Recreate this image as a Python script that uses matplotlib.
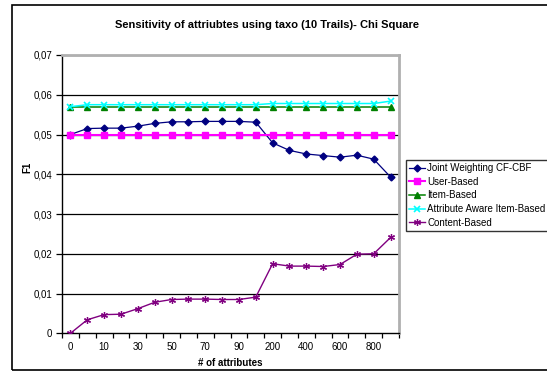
import matplotlib.pyplot as plt
import numpy as np
from matplotlib.patches import Rectangle

plt.rcParams['font.family'] = ['Liberation Sans', 'DejaVu Sans']

# number of attributes used in each trial
n_attrs = [0, 5, 10, 20, 30, 40, 50, 60, 70, 80, 90, 100,
           200, 300, 400, 500, 600, 700, 800, 900]

# F1 for each method
joint_cf_cbf = [0.0500, 0.0515, 0.0516, 0.0516, 0.0521, 0.0528, 0.0532, 0.0532, 0.0533, 0.0533,
                0.0533, 0.0531, 0.0479, 0.0460, 0.0451, 0.0447, 0.0443, 0.0448, 0.0438, 0.0393]
user_based = [0.050] * 20
item_based = [0.057] * 20
attr_aware = [0.0570] + [0.0575] * 11 + [0.0578] * 7 + [0.0584]
content_based = [0.0, 0.0034, 0.0047, 0.0048, 0.0062, 0.0078, 0.0085, 0.0086, 0.0086, 0.0085,
                 0.0085, 0.0091, 0.0175, 0.0169, 0.0169, 0.0168, 0.0173, 0.0199, 0.0200, 0.0241]

x = np.arange(len(n_attrs))

fig = plt.figure(figsize=(5.47, 3.76), dpi=100)
ax = fig.add_axes([62 / 547, 1 - 333.3 / 376, 337 / 547, 278.3 / 376])

# horizontal gridlines behind the series
for v in np.arange(0.01, 0.071, 0.01):
    ax.axhline(v, color='black', lw=0.9, zorder=1)

ax.plot(x, joint_cf_cbf, color='#000080', lw=0.9, marker='D', ms=3.5, label='Joint Weighting CF-CBF', zorder=3)
ax.plot(x, user_based, color='#FF00FF', lw=1.5, marker='s', ms=4.5, label='User-Based', zorder=3)
ax.plot(x, item_based, color='#008000', lw=1.1, marker='^', ms=4, label='Item-Based', zorder=3)
ax.plot(x, attr_aware, color='#00FFFF', lw=1.1, marker='x', ms=4, mew=1.2, label='Attribute Aware Item-Based', zorder=3)
ax.plot(x, content_based, color='#800080', lw=1.0, marker=(6, 2, 0), ms=5, mew=0.9, label='Content-Based', zorder=3)

ax.set_xlim(-0.5, len(n_attrs) - 0.5)
ax.set_ylim(0, 0.07)

# tick marks sit between categories, labels on every other category
ax.set_xticks(np.arange(-0.5, len(n_attrs), 1.0))
ax.set_xticklabels([])
ax.set_xticks(x[::2], minor=True)
ax.set_xticklabels([str(v) for v in n_attrs[::2]], minor=True)
ax.tick_params(axis='x', which='major', direction='out', length=3.5, width=0.9, color='black')
ax.tick_params(axis='x', which='minor', length=0, labelsize=7, pad=6)

yt = np.arange(0, 0.071, 0.01)
ax.set_yticks(yt)
ax.set_yticklabels(['0'] + ['0,0%d' % i for i in range(1, 8)])
ax.tick_params(axis='y', direction='out', length=4, width=0.9, labelsize=7, pad=3)

for s in ['left', 'bottom']:
    ax.spines[s].set_color('black')
    ax.spines[s].set_linewidth(1.0)
for s in ['right', 'top']:
    ax.spines[s].set_color('#B0B0B0')
    ax.spines[s].set_linewidth(2.0)

fig.text(267 / 547, 1 - 25 / 376, 'Sensitivity of attriubtes using taxo (10 Trails)- Chi Square',
         ha='center', va='center', fontsize=8, fontweight='bold')
fig.text(230 / 547, 1 - 362.5 / 376, '# of attributes', ha='center', va='center', fontsize=7, fontweight='bold')
fig.text(27 / 547, 1 - 167 / 376, 'F1', ha='center', va='center', rotation=90, fontsize=7, fontweight='bold')

leg = ax.legend(loc='upper left', bbox_to_anchor=(405.7 / 547, 1 - 160 / 376), bbox_transform=fig.transFigure,
                fontsize=7, frameon=True, fancybox=False, borderaxespad=0, handlelength=1.7,
                handletextpad=0.2, labelspacing=0.38, borderpad=0.3)
leg.get_frame().set_edgecolor('black')
leg.get_frame().set_linewidth(1.0)

# chart border
fig.patches.append(Rectangle((12 / 547, 1 - 370 / 376), 1.0, 365 / 376, transform=fig.transFigure,
                             fill=False, edgecolor='black', lw=1.2))

plt.savefig('out.png', dpi=100)
